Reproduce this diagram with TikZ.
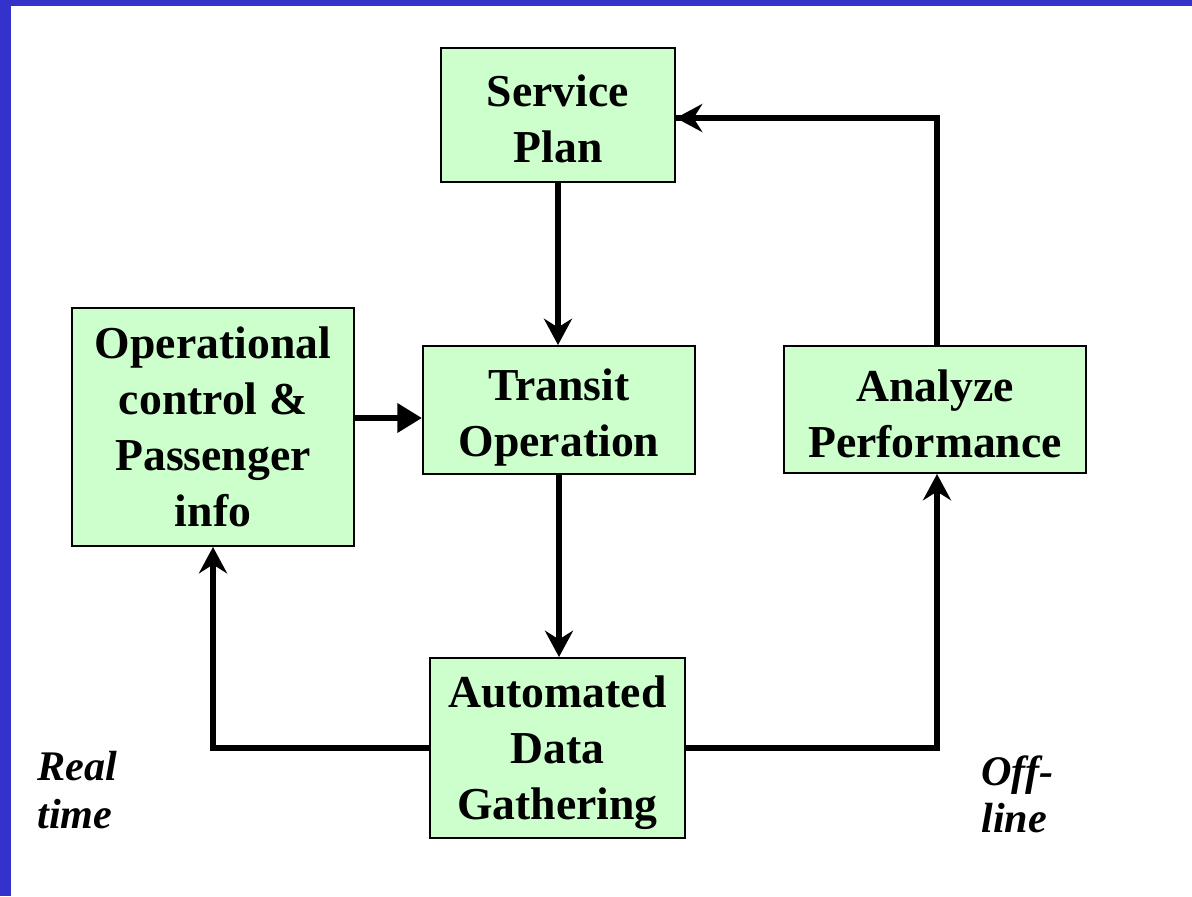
\documentclass[tikz,border=0pt]{standalone}
\usepackage{fontspec}
\setmainfont{Liberation Serif}
\usetikzlibrary{arrows.meta}
\definecolor{boxgreen}{HTML}{CCFFCC}
\definecolor{frameblue}{HTML}{3333CC}

\begin{document}
\begin{tikzpicture}[
    block/.style={rectangle, draw=black, line width=1.1pt, fill=boxgreen,
        inner sep=0pt, align=center,
        font=\fontsize{26}{32}\selectfont\bfseries},
    flow/.style={line width=3.4pt, -{Stealth[length=15pt, width=16pt, inset=5pt]}},
    flowtri/.style={line width=3.4pt, -{Triangle[length=14pt, width=16pt]}},
    note/.style={inner sep=0pt, font=\fontsize{24}{27}\selectfont\bfseries\itshape}
]
    \useasboundingbox (0,0) rectangle (23.84,-17.92);
    \fill[frameblue] (0,0) rectangle (0.22,-17.92);
    \fill[frameblue] (0,0) rectangle (23.84,-0.12);

    \node[block, minimum width=4.68cm, minimum height=2.68cm] (plan) at (11.16,-2.3) {\rule{0pt}{22.3pt}Service\\Plan};
    \node[block, minimum width=5.64cm, minimum height=4.76cm] (opctl) at (4.26,-8.54) {Operational\\control \&\\Passenger\\info};
    \node[block, minimum width=5.44cm, minimum height=2.56cm] (transit) at (11.18,-8.2) {\rule{0pt}{27pt}Transit\\Operation};
    \node[block, minimum width=6.04cm, minimum height=2.54cm] (analyze) at (18.7,-8.19) {\rule{0pt}{22.6pt}Analyze\\Performance};
    \node[block, minimum width=5.1cm, minimum height=3.6cm] (gather) at (11.15,-14.96) {\rule{0pt}{23.6pt}Automated\\Data\\Gathering};

    \node[note, anchor=west, align=left] (realtime) at (0.74,-15.8) {Real\\time};
    \node[note, anchor=west, align=left] (offline) at (19.62,-15.89) {Off-\\line};

    \draw[flow] (plan.south) -- (plan.south |- transit.north);
    \draw[flow] (transit.south) -- (transit.south |- gather.north);
    \draw[flowtri] ([yshift=0.18cm]opctl.east) -- ([yshift=0.18cm]opctl.east -| transit.west);
    \draw[flow] (gather.west) -| (opctl.south);
    \draw[flow] (gather.east) -| ([xshift=0.04cm]analyze.south);
    \draw[line width=3.4pt] ([xshift=0.04cm]analyze.north) |- ([yshift=-0.06cm]plan.east) coordinate (planin);
    \draw[flow] ([xshift=1cm]planin) -- (planin);
\end{tikzpicture}
\end{document}
